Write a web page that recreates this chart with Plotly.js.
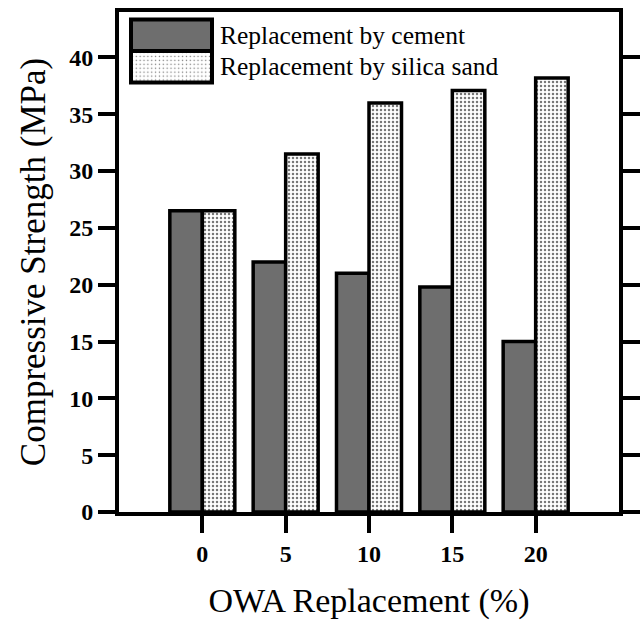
<!DOCTYPE html>
<html>
<head>
<meta charset="utf-8">
<script src="https://cdn.plot.ly/plotly-3.0.1.min.js"></script>
<style>html,body{margin:0;padding:0;background:#fff;}#chart{width:641px;height:620px;}</style>
</head>
<body>
<div id="chart"></div>
<script>
const replacement = [0, 5, 10, 15, 20];
const cementStrength = [26.5, 22.0, 21.0, 19.8, 15.0];
const silicaStrength = [26.5, 31.5, 36.0, 37.1, 38.2];
const seriesNames = ['Replacement by cement', 'Replacement by silica sand'];
const xTicks = [0, 5, 10, 15, 20];
const yTicks = [0, 5, 10, 15, 20, 25, 30, 35, 40];

const FONT = 'Liberation Serif';
const cementColor = '#6e6e6e';

const traces = [
  {
    type: 'bar', x: replacement, y: cementStrength, name: seriesNames[0],
    marker: {color: cementColor, line: {color: '#000', width: 3.5}},
    showlegend: false
  },
  {
    type: 'bar', x: replacement, y: silicaStrength, name: seriesNames[1],
    marker: {color: '#ffffff', line: {color: '#000', width: 3.5},
      pattern: {shape: '.', fgcolor: '#777', bgcolor: '#ffffff', size: 4, solidity: 0.3}},
    showlegend: false
  }
];

const dotSvg = "<svg xmlns='http://www.w3.org/2000/svg' width='84' height='32'><defs><pattern id='p' width='4' height='4' patternUnits='userSpaceOnUse'><rect width='4' height='4' fill='white'/><circle cx='1.5' cy='1.5' r='0.75' fill='#777'/></pattern></defs><rect width='84' height='32' fill='url(#p)'/></svg>";
const dotUri = 'data:image/svg+xml;charset=utf-8,' + encodeURIComponent(dotSvg);

// legend geometry in paper coords
const lx0 = 0.024, lx1 = 0.186;
const rows = [[0.985, 0.922], [0.922, 0.859]];

const layout = {
  width: 641, height: 620,
  margin: {l: 119, r: 22, t: 12, b: 108},
  paper_bgcolor: '#fff', plot_bgcolor: '#fff',
  font: {family: FONT, color: '#000'},
  barmode: 'group', bargap: 0.22, bargroupgap: 0,
  xaxis: {
    range: [-5, 25], tickvals: xTicks, ticktext: xTicks.map(String),
    ticks: 'outside', ticklen: 17, tickwidth: 4, tickcolor: '#000',
    showline: true, linewidth: 4, linecolor: '#000', mirror: true,
    showgrid: false, zeroline: false,
    tickfont: {family: FONT, size: 24, weight: 'bold', color: '#000'},
    title: {text: 'OWA Replacement (%)', font: {family: FONT, size: 34, color: '#000'}, standoff: 23}
  },
  yaxis: {
    range: [0, 44], tickvals: yTicks, ticktext: yTicks.map(String),
    ticks: 'outside', ticklen: 17, tickwidth: 4, tickcolor: '#000',
    showline: true, linewidth: 4, linecolor: '#000', mirror: 'ticks',
    showgrid: false, zeroline: false,
    tickfont: {family: FONT, size: 24, weight: 'bold', color: '#000'},
    title: {text: 'Compressive Strength (MPa)', font: {family: FONT, size: 35, color: '#000'}, standoff: 14}
  },
  shapes: [
    {type: 'rect', xref: 'paper', yref: 'paper', x0: lx0, x1: lx1, y0: rows[0][1], y1: rows[0][0],
     fillcolor: cementColor, line: {color: '#000', width: 4}},
    {type: 'rect', xref: 'paper', yref: 'paper', x0: lx0, x1: lx1, y0: rows[1][1], y1: rows[1][0],
     fillcolor: 'rgba(0,0,0,0)', line: {color: '#000', width: 4}}
  ],
  images: [
    {source: dotUri, xref: 'paper', yref: 'paper', x: lx0, y: rows[1][0], sizex: lx1 - lx0, sizey: rows[1][0] - rows[1][1],
     sizing: 'stretch', xanchor: 'left', yanchor: 'top', layer: 'above'}
  ],
  annotations: seriesNames.map((n, i) => ({
    text: n, xref: 'paper', yref: 'paper', x: lx1 + 0.012, y: (rows[i][0] + rows[i][1]) / 2,
    xanchor: 'left', yanchor: 'middle', showarrow: false,
    font: {family: FONT, size: 25.5, color: '#000'}
  }))
};

Plotly.newPlot('chart', traces, layout, {displayModeBar: false, staticPlot: true});
</script>
</body>
</html>
